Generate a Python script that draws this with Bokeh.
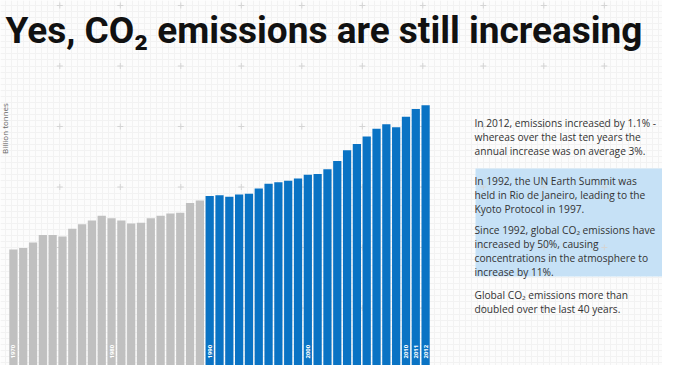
import numpy as np
from bokeh.plotting import figure
from bokeh.models import Range1d, Grid, FixedTicker, Label, BoxAnnotation, ColumnDataSource
from bokeh.core.properties import value
from bokeh.embed import file_html
from bokeh.resources import INLINE

# ---- data (global CO2 emissions, billion tonnes) ----
years = list(range(1970, 2013))
emissions = [15.6, 15.8, 16.5, 17.5, 17.5, 17.3, 18.3, 18.9, 19.4, 20.0,
             19.7, 19.4, 19.0, 19.1, 19.7, 20.0, 20.3, 20.4, 21.7, 22.0,
             22.6, 22.7, 22.5, 22.8, 22.9, 23.6, 24.2, 24.4, 24.6, 24.9,
             25.4, 25.5, 26.1, 27.2, 28.6, 29.4, 30.4, 31.4, 32.0, 31.6,
             33.0, 34.0, 34.5]
split_year = 1990
label_years = [1970, 1980, 1990, 2000, 2010, 2011, 2012]

title_text = "Yes, CO\u2082 emissions are still increasing"
y_label = "Billion tonnes"
notes = [
    ["In 2012, emissions increased by 1.1% -",
     "whereas over the last ten years the",
     "annual increase was on average 3%."],
    ["In 1992, the UN Earth Summit was",
     "held in Rio de Janeiro, leading to the",
     "Kyoto Protocol in 1997."],
    ["Since 1992, global CO\u2082 emissions have",
     "increased by 50%, causing",
     "concentrations in the atmosphere to",
     "increase by 11%."],
    ["Global CO\u2082 emissions more than",
     "doubled over the last 40 years."],
]

# ---- layout ----
W, H = 662, 365
px_per_year = 9.814
gt_per_px = 0.13103
left_px = 8        # left edge of first bar
base_below = 3     # zero line sits 3px below the bottom edge

x0 = years[0] - 0.5 - left_px / px_per_year
y0 = base_below * gt_per_px
p = figure(width=W, height=H, output_backend="svg", toolbar_location=None,
           x_range=Range1d(x0, x0 + W / px_per_year),
           y_range=Range1d(y0, y0 + H * gt_per_px),
           min_border=0, outline_line_color=None,
           background_fill_color="#fcfcfc", border_fill_color="#fcfcfc")
p.axis.visible = False
p.grid.visible = False
p.extra_x_ranges = {"px": Range1d(0, W)}
p.extra_y_ranges = {"py": Range1d(H, 0)}   # pixel space, measured from the top

# background graph-paper grid (decoration, pixel space)
gx0, gy0, major = 59.3, 126.0, 60.5
minor_x = list(np.arange(gx0 - major, W + 1, major / 10))
minor_y = list(np.arange(gy0 - 3 * major, H + 1, major / 10))
p.add_layout(Grid(dimension=0, ticker=FixedTicker(ticks=minor_x), x_range_name="px", y_range_name="py",
                  grid_line_color="#f2f2f2", grid_line_width=1))
p.add_layout(Grid(dimension=1, ticker=FixedTicker(ticks=minor_y), x_range_name="px", y_range_name="py",
                  grid_line_color="#f2f2f2", grid_line_width=1))
mx = np.arange(gx0, W + 1, major)
my = np.arange(gy0 - 2 * major, H + 1, major)
cx, cy = np.meshgrid(mx, my)
p.scatter(cx.ravel(), cy.ravel(), marker="cross", size=6, line_color="#d4d4d4", line_width=1,
          x_range_name="px", y_range_name="py")

# bars
colors = ["#c0c0c0" if y < split_year else "#0a73c4" for y in years]
src = ColumnDataSource(dict(x=years, top=emissions, color=colors))
p.vbar(x="x", top="top", bottom=0, width=0.84, fill_color="color", line_color=None, source=src)

# year labels inside bars
p.text(x=label_years, y=[0] * len(label_years), text=[str(y) for y in label_years],
       angle=np.pi / 2, text_align="left", text_baseline="middle", y_offset=-10,
       text_color="white", text_font=value("Open Sans"), text_font_size="6px", text_font_style="bold")

# title
p.add_layout(Label(x=5, y=30, x_range_name="px", y_range_name="py", text=title_text,
                   text_font="Roboto", text_font_style="bold",
                   text_font_size="37px", text_color="#111111", text_baseline="alphabetic"))

# y label
p.add_layout(Label(x=9, y=128, x_range_name="px", y_range_name="py", text=y_label, angle=np.pi / 2,
                   text_align="center", text_baseline="bottom", text_font="Open Sans",
                   text_font_size="8px", text_color="#666666"))

# highlight box
p.add_layout(BoxAnnotation(left=475, right=W, top=168, bottom=276,
                           x_range_name="px", y_range_name="py",
                           fill_color="#c6e1f6", fill_alpha=1, line_color=None, level="underlay"))

# notes
line_h = 14.3
starts = [122, 180, 229, 294]
for gi, group in enumerate(notes):
    for li, line in enumerate(group):
        ypix = starts[gi] + li * line_h
        p.add_layout(Label(x=474, y=ypix, x_range_name="px", y_range_name="py", text=line,
                           text_font="Open Sans", text_font_size="10.2px", text_color="#333333",
                           text_baseline="middle"))

open("out.html", "w").write(file_html(p, INLINE))
